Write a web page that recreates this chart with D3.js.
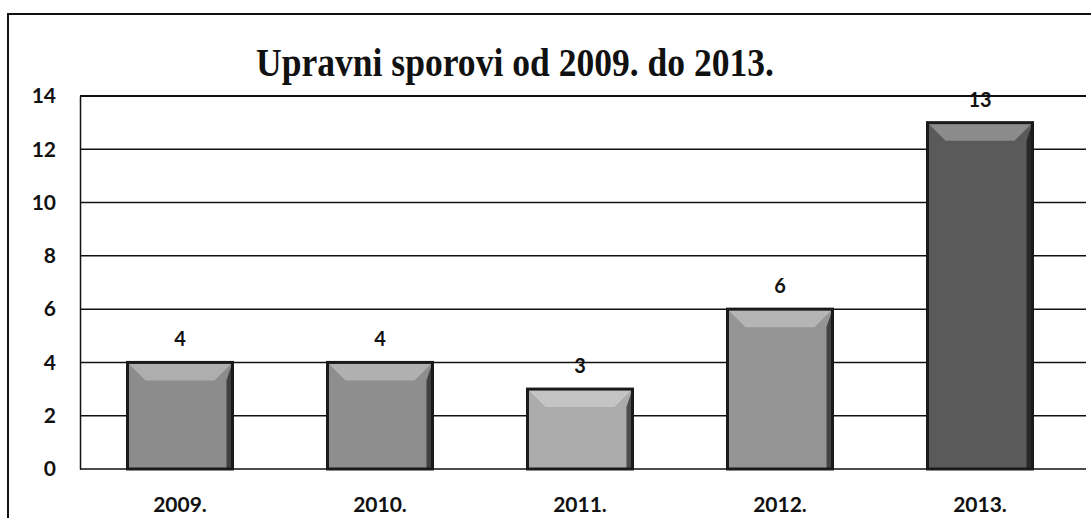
<!DOCTYPE html>
<html>
<head>
<meta charset="utf-8">
<script src="https://cdn.jsdelivr.net/npm/d3@7"></script>
<style>
  body { margin: 0; background: #fff; }
  svg { display: block; }
</style>
</head>
<body>
<script>
    // Chart data
    var years = ["2009.", "2010.", "2011.", "2012.", "2013."];
    var cases = [4, 4, 3, 6, 13];
    var barFills = ["#8c8c8c", "#8e8e8e", "#ababab", "#959595", "#5a5a5a"];
    var yTicks = [0, 2, 4, 6, 8, 10, 12, 14];
    var title = "Upravni sporovi od 2009. do 2013.";

    var w = 1091;
    var h = 518;
    var plot = { left: 80, right: 1080, top: 96, bottom: 469 };

    var svg = d3.select("body")
        .append("svg")
        .attr("width", w)
        .attr("height", h);

    // Scales
    var xScale = d3.scaleBand()
        .domain(years)
        .range([plot.left, plot.right])
        .paddingInner(0.475)
        .paddingOuter(0.2375);

    var yScale = d3.scaleLinear()
        .domain([0, 14])
        .range([plot.bottom, plot.top]);

    // Outer frame (left and top edge of the scanned box)
    svg.append("path")
        .attr("d", "M8," + h + "V14H" + w)
        .attr("fill", "none")
        .attr("stroke", "#111")
        .attr("stroke-width", 2);

    // Title
    svg.append("text")
        .attr("x", 515)
        .attr("y", 76)
        .attr("text-anchor", "middle")
        .attr("font-family", "'Liberation Serif', 'Times New Roman', serif")
        .attr("font-weight", "bold")
        .attr("font-size", 40)
        .attr("textLength", 518)
        .attr("lengthAdjust", "spacingAndGlyphs")
        .attr("fill", "#111")
        .text(title);

    // Gridlines
    svg.append("g")
        .selectAll("line")
        .data(yTicks)
        .enter()
        .append("line")
        .attr("x1", plot.left)
        .attr("x2", plot.right + 6)
        .attr("y1", function(d) { return yScale(d); })
        .attr("y2", function(d) { return yScale(d); })
        .attr("stroke", "#111")
        .attr("stroke-width", function(d) { return d === 14 ? 2 : 1.5; });

    // Y axis with labels
    var yAxis = svg.append("g")
        .attr("transform", "translate(" + plot.left + ",0)")
        .call(d3.axisLeft(yScale).tickValues(yTicks).tickSize(0).tickPadding(24));
    yAxis.select(".domain").attr("stroke", "#111").attr("stroke-width", 1.5);
    yAxis.selectAll("text")
        .attr("font-family", "Lato, 'Open Sans', sans-serif")
        .attr("font-weight", "bold")
        .attr("font-size", 21)
        .attr("fill", "#111");

    // X axis labels
    var xAxis = svg.append("g")
        .attr("transform", "translate(0," + plot.bottom + ")")
        .call(d3.axisBottom(xScale).tickSize(0).tickPadding(28));
    xAxis.select(".domain").remove();
    xAxis.selectAll("text")
        .attr("font-family", "Lato, 'Open Sans', sans-serif")
        .attr("font-weight", "bold")
        .attr("font-size", 21)
        .attr("fill", "#111");

    // Bars with a bevel look
    var bw = xScale.bandwidth();
    var bevel = 18;
    var bars = svg.append("g")
        .selectAll("g")
        .data(cases)
        .enter()
        .append("g");

    bars.append("rect")
        .attr("x", function(d, i) { return xScale(years[i]); })
        .attr("y", function(d) { return yScale(d); })
        .attr("width", bw)
        .attr("height", function(d) { return yScale(0) - yScale(d); })
        .attr("fill", function(d, i) { return barFills[i]; });

    // lighter top bevel
    bars.append("path")
        .attr("d", function(d, i) {
            var x0 = xScale(years[i]), y0 = yScale(d);
            return "M" + x0 + "," + y0 + "H" + (x0 + bw) +
                "L" + (x0 + bw - bevel) + "," + (y0 + bevel) +
                "H" + (x0 + bevel) + "Z";
        })
        .attr("fill", "#fff")
        .attr("opacity", 0.3);

    // darker right side
    bars.append("path")
        .attr("d", function(d, i) {
            var x0 = xScale(years[i]), y0 = yScale(d), y1 = yScale(0);
            return "M" + (x0 + bw) + "," + y0 + "V" + y1 +
                "H" + (x0 + bw - 6) + "V" + (y0 + bevel) + "Z";
        })
        .attr("fill", "#000")
        .attr("opacity", 0.55);

    bars.append("rect")
        .attr("x", function(d, i) { return xScale(years[i]); })
        .attr("y", function(d) { return yScale(d); })
        .attr("width", bw)
        .attr("height", function(d) { return yScale(0) - yScale(d); })
        .attr("fill", "none")
        .attr("stroke", "#1a1a1a")
        .attr("stroke-width", 3);

    // Value labels
    bars.append("text")
        .attr("x", function(d, i) { return xScale(years[i]) + bw / 2; })
        .attr("y", function(d) { return yScale(d) - 16; })
        .attr("text-anchor", "middle")
        .attr("font-family", "Lato, 'Open Sans', sans-serif")
        .attr("font-weight", "bold")
        .attr("font-size", 20)
        .attr("fill", "#111")
        .text(function(d) { return d; });
</script>
</body>
</html>
